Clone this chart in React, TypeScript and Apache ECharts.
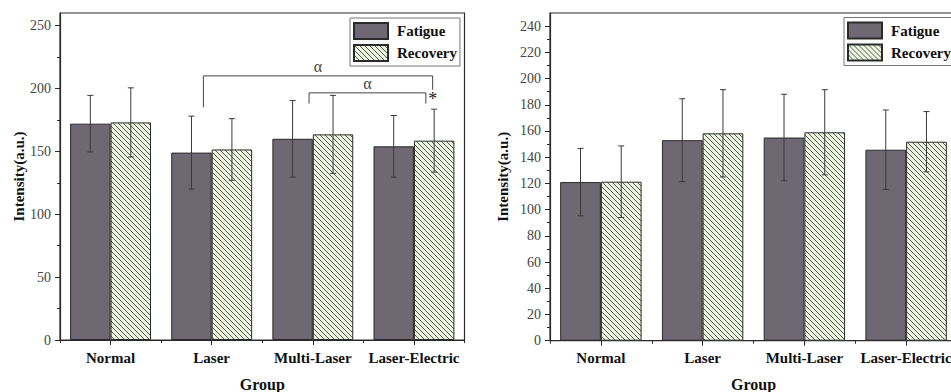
import React, { useEffect, useRef } from 'react';
import * as echarts from 'echarts';

const categories = ['Normal', 'Laser', 'Multi-Laser', 'Laser-Electric'];
const seriesNames = ['Fatigue', 'Recovery'];

// Left panel
const leftFatigue = [172, 149, 160, 154];
const leftFatigueErr = [22.5, 29, 30.5, 24.5];
const leftRecovery = [173, 151.5, 163.5, 158.5];
const leftRecoveryErr = [27.5, 24.5, 31, 25];
const leftYMax = 260;
const leftTicks = [0, 50, 100, 150, 200, 250];
const leftMinorTicks = [25, 75, 125, 175, 225];

// Right panel
const rightFatigue = [121, 153, 155, 145.7];
const rightFatigueErr = [25.7, 31.6, 33, 30.3];
const rightRecovery = [121.3, 158.2, 159, 151.8];
const rightRecoveryErr = [27.3, 33.3, 32.5, 23];
const rightYMax = 250;
const rightTicks = [0, 20, 40, 60, 80, 100, 120, 140, 160, 180, 200, 220, 240];
const rightMinorTicks = [10, 30, 50, 70, 90, 110, 130, 150, 170, 190, 210, 230];

// Significance annotations (left panel): [category, offset in band] and values
const brackets = [
  { from: [1, -0.082], to: [3, 0.185], y: 210, legFrom: 185, legTo: 199, label: 'α' },
  { from: [2, -0.037], to: [3, 0.118], y: 196.5, legFrom: 188, legTo: 188, label: 'α' },
];
const stars = [{ at: [3, 0.185], y: 192, label: '*' }];

const SERIF = 'Liberation Serif';
const FATIGUE_COLOR = '#6d6872';
const EDGE = '#2a2a2a';

function makeHatch() {
  const s = 5;
  const c = document.createElement('canvas');
  c.width = s;
  c.height = s;
  const g = c.getContext('2d')!;
  g.fillStyle = '#eef5e3';
  g.fillRect(0, 0, s, s);
  g.strokeStyle = '#555a4c';
  g.lineWidth = 1;
  for (const o of [-s, 0, s]) {
    g.beginPath();
    g.moveTo(o, 0);
    g.lineTo(o + s, s);
    g.stroke();
  }
  return c;
}

export default function App() {
  const ref = useRef<HTMLDivElement>(null);
  useEffect(() => {
    if (!ref.current) return;
    const chart = echarts.init(ref.current, undefined, { renderer: 'svg' });
    const hatch = { image: makeHatch(), repeat: 'repeat' } as any;

    const grids = [
      { left: 60, top: 13, right: 486.5, bottom: 52 },
      { left: 550, top: 13, right: -6, bottom: 51.3 },
    ].map((g) => ({
      ...g,
      show: true,
      borderColor: EDGE,
      borderWidth: 1.2,
      backgroundColor: 'transparent',
      containLabel: false,
      outerBoundsMode: 'none',
    }));

    const catAxis = (gi: number) => ({
      type: 'category',
      gridIndex: gi,
      data: categories,
      position: 'bottom',
      axisLine: { show: true, lineStyle: { color: EDGE, width: 1.2 } },
      axisTick: { show: true, alignWithLabel: true, length: 5, lineStyle: { color: EDGE } },
      axisLabel: { fontFamily: SERIF, fontWeight: 'bold', fontSize: 15, color: '#111', margin: 10, interval: 0 },
      name: 'Group',
      nameLocation: 'middle',
      nameGap: 36,
      nameTextStyle: { fontFamily: SERIF, fontWeight: 'bold', fontSize: 16, color: '#111' },
      splitLine: { show: false },
    });
    const boundAxis = (gi: number) => ({
      type: 'value',
      gridIndex: gi,
      min: 0,
      max: categories.length,
      interval: 1,
      position: 'bottom',
      axisLine: { show: false },
      axisTick: { show: true, length: 3, lineStyle: { color: EDGE } },
      axisLabel: { show: false },
      splitLine: { show: false },
    });
    const valAxis = (gi: number, max: number, ticks: number[], nameGap: number, margin: number) => ({
      type: 'value',
      gridIndex: gi,
      min: 0,
      max,
      position: 'left',
      axisLine: { show: true, lineStyle: { color: EDGE, width: 1.2 } },
      axisTick: { show: true, length: 5, customValues: ticks, lineStyle: { color: EDGE } },
      axisLabel: { customValues: ticks, fontFamily: SERIF, fontSize: 14, color: '#444', margin },
      splitLine: { show: false },
      name: 'Intensity(a.u.)',
      nameLocation: 'middle',
      nameGap,
      nameTextStyle: { fontFamily: SERIF, fontWeight: 'bold', fontSize: 15, color: '#111' },
    });
    const minorAxis = (gi: number, max: number, ticks: number[]) => ({
      type: 'value',
      gridIndex: gi,
      min: 0,
      max,
      position: 'left',
      axisLine: { show: false },
      axisTick: { show: true, length: 3, customValues: ticks, lineStyle: { color: EDGE } },
      axisLabel: { show: false },
      splitLine: { show: false },
    });

    const barSeries = (name: string, data: number[], xi: number, yi: number, color: any) => ({
      type: 'bar',
      name,
      xAxisIndex: xi,
      yAxisIndex: yi,
      data,
      barGap: '0%',
      barCategoryGap: '20%',
      itemStyle: { color, borderColor: EDGE, borderWidth: 1 },
      z: 2,
    });

    const errSeries = (vals: number[], errs: number[], side: number, xi: number, yi: number) => ({
      type: 'custom',
      xAxisIndex: xi,
      yAxisIndex: yi,
      z: 5,
      silent: true,
      encode: { x: 0, y: 1 },
      data: vals.map((v, i) => [i, v, errs[i], side]),
      renderItem: (params: any, api: any) => {
        const i = api.value(0);
        const v = api.value(1);
        const e = api.value(2);
        const sd = api.value(3);
        const band = api.size([1, 0])[0];
        const bw = band * 0.4;
        const x = api.coord([i, v])[0] + (sd * bw) / 2;
        const top = api.coord([i, v + e])[1];
        const bot = api.coord([i, v - e])[1];
        const cap = 3;
        const st = { stroke: '#3a3a3a', lineWidth: 1 };
        return {
          type: 'group',
          children: [
            { type: 'line', shape: { x1: x, y1: top, x2: x, y2: bot }, style: st },
            { type: 'line', shape: { x1: x - cap, y1: top, x2: x + cap, y2: top }, style: st },
            { type: 'line', shape: { x1: x - cap, y1: bot, x2: x + cap, y2: bot }, style: st },
          ],
        };
      },
    });

    const annotSeries = {
      type: 'custom',
      xAxisIndex: 0,
      yAxisIndex: 0,
      z: 6,
      silent: true,
      encode: { x: 0, y: 1 },
      data: brackets.map((b) => [b.from[0], b.y]),
      renderItem: (params: any, api: any) => {
        const b = brackets[params.dataIndex];
        const band = api.size([1, 0])[0];
        const x1 = api.coord([b.from[0], b.y])[0] + b.from[1] * band;
        const x2 = api.coord([b.to[0], b.y])[0] + b.to[1] * band;
        const y = api.coord([b.from[0], b.y])[1];
        const yl1 = api.coord([b.from[0], b.legFrom])[1];
        const yl2 = api.coord([b.to[0], b.legTo])[1];
        const children: any[] = [
          {
            type: 'polyline',
            shape: { points: [[x1, yl1], [x1, y], [x2, y], [x2, yl2]] },
            style: { stroke: '#444', lineWidth: 1, fill: null },
          },
          {
            type: 'text',
            style: {
              text: b.label,
              x: (x1 + x2) / 2,
              y: y - 1,
              align: 'center',
              verticalAlign: 'bottom',
              font: `16px ${SERIF}`,
              fill: '#444',
            },
          },
        ];
        if (params.dataIndex === 0) {
          stars.forEach((s) => {
            const sx = api.coord([s.at[0], s.y])[0] + s.at[1] * band;
            const sy = api.coord([s.at[0], s.y])[1];
            children.push({
              type: 'text',
              style: {
                text: s.label,
                x: sx,
                y: sy,
                align: 'center',
                verticalAlign: 'middle',
                font: `18px ${SERIF}`,
                fill: '#222',
              },
            });
          });
        }
        return { type: 'group', children };
      },
    };

    const legendBase = {
      orient: 'vertical',
      icon: 'rect',
      itemWidth: 34,
      itemHeight: 16,
      itemGap: 4,
      borderColor: '#777',
      borderWidth: 1,
      backgroundColor: '#fff',
      selectedMode: false,
      data: seriesNames,
      textStyle: { fontFamily: SERIF, fontWeight: 'bold', fontSize: 15, color: '#111', padding: [0, 0, 0, 4] },
    };

    chart.setOption({
      animation: false,
      backgroundColor: '#fff',
      grid: grids,
      legend: [
        { ...legendBase, left: 350, top: 18, padding: [4, 3, 4, 3] },
        { ...legendBase, left: 844, top: 17.5, padding: [4, 10, 4, 3] },
      ],
      xAxis: [catAxis(0), boundAxis(0), catAxis(1), boundAxis(1)],
      yAxis: [
        valAxis(0, leftYMax, leftTicks, 32, 9),
        minorAxis(0, leftYMax, leftMinorTicks),
        valAxis(1, rightYMax, rightTicks, 40, 9),
        minorAxis(1, rightYMax, rightMinorTicks),
      ],
      series: [
        barSeries('Fatigue', leftFatigue, 0, 0, FATIGUE_COLOR),
        barSeries('Recovery', leftRecovery, 0, 0, hatch),
        barSeries('Fatigue', rightFatigue, 2, 2, FATIGUE_COLOR),
        barSeries('Recovery', rightRecovery, 2, 2, hatch),
        errSeries(leftFatigue, leftFatigueErr, -1, 0, 0),
        errSeries(leftRecovery, leftRecoveryErr, 1, 0, 0),
        errSeries(rightFatigue, rightFatigueErr, -1, 2, 2),
        errSeries(rightRecovery, rightRecoveryErr, 1, 2, 2),
        annotSeries,
      ],
    } as any);
    return () => chart.dispose();
  }, []);
  return <div ref={ref} style={{ position: 'fixed', left: 0, top: 0, width: 951, height: 392 }} />;
}
